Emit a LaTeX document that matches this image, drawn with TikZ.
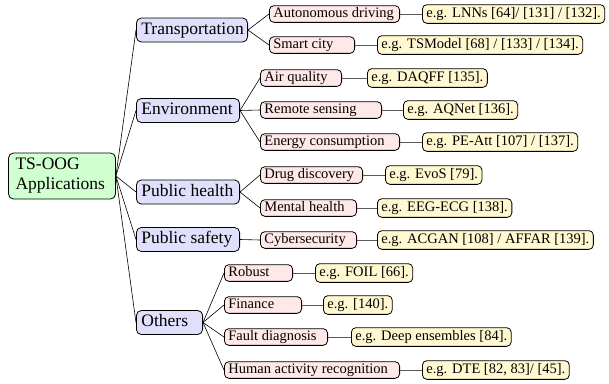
\documentclass[tikz,border=0pt]{standalone}
\usepackage{fontspec}
\setmainfont{Liberation Serif}
\definecolor{rootfill}{RGB}{208,255,208}
\definecolor{lonefill}{RGB}{224,224,252}
\definecolor{ltwofill}{RGB}{255,232,232}
\definecolor{lthreefill}{RGB}{255,248,208}
\newcommand\lftbox[2]{\makebox[#1pt][l]{#2}}
\tikzset{
  base/.style={draw=black, line width=0.8pt, anchor=west},
  rootnode/.style={base, anchor=center, fill=rootfill, rounded corners=5pt, inner xsep=7pt, inner ysep=3pt,
    minimum height=46pt, text width=93pt, align=left, font=\fontsize{17.5}{20}\selectfont},
  lone/.style={base, fill=lonefill, rounded corners=5pt, inner xsep=5pt, inner ysep=3.5pt,
    text height=12.5pt, text depth=4.5pt, font=\fontsize{17.5}{20}\selectfont},
  ltwo/.style={base, fill=ltwofill, rounded corners=4.5pt, inner xsep=4pt, inner ysep=1.6pt,
    text height=10pt, text depth=3.5pt, font=\fontsize{14.5}{16}\selectfont},
  lthree/.style={base, fill=lthreefill, rounded corners=4.5pt, inner xsep=4pt, inner ysep=2.6pt,
    text height=10pt, text depth=3.5pt, font=\fontsize{14.5}{16}\selectfont},
  edgeA/.style={draw=black, line width=0.6pt},
  edgeB/.style={draw=black!65, line width=0.8pt}
}
\begin{document}
\begin{tikzpicture}[x=1pt,y=-1pt]
\useasboundingbox (0,0) rectangle (609,383);
% root
\node[rootnode] (root) at (62,176) {TS-OOG\\Applications};
% level 1
\node[lone] (t)  at (136,30)    {\lftbox{101.2}{Transportation}};
\node[lone] (e)  at (136,110.5) {\lftbox{93.2}{Environment}};
\node[lone] (ph) at (136,192)   {\lftbox{93.2}{Public health}};
\node[lone] (ps) at (136,239.5) {\lftbox{93.2}{Public safety}};
\node[lone] (o)  at (136,322.5) {\lftbox{56.2}{Others}};
% level 2
\node[ltwo] (t1) at (269,14)  {\lftbox{122.2}{Autonomous driving}};
\node[ltwo] (t2) at (269,45)  {\lftbox{77.2}{Smart city}};
\node[ltwo] (e1) at (260,78)  {\lftbox{73.2}{Air quality}};
\node[ltwo] (e2) at (260,110) {\lftbox{113.2}{Remote sensing}};
\node[ltwo] (e3) at (260,142) {\lftbox{131.2}{Energy consumption}};
\node[ltwo] (h1) at (260,175) {\lftbox{94.2}{Drug discovery}};
\node[ltwo] (h2) at (260,208) {\lftbox{88.2}{Mental health}};
\node[ltwo] (s1) at (260,240) {\lftbox{88.2}{Cybersecurity}};
\node[ltwo] (o1) at (224,273) {\lftbox{60.2}{Robust}};
\node[ltwo] (o2) at (224,305) {\lftbox{69.2}{Finance}};
\node[ltwo] (o3) at (224,337) {\lftbox{95.2}{Fault diagnosis}};
\node[ltwo] (o4) at (224,370) {\lftbox{167.2}{Human activity recognition}};
% level 3
\node[lthree] (t1x) at (422,14)  {e.g. LNNs [64]/ [131] / [132].};
\node[lthree] (t2x) at (377,45)  {e.g. TSModel [68] / [133] / [134].};
\node[lthree] (e1x) at (367,78)  {e.g. DAQFF [135].};
\node[lthree] (e2x) at (403,110) {e.g. AQNet [136].};
\node[lthree] (e3x) at (422,142) {e.g. PE-Att [107] / [137].};
\node[lthree] (h1x) at (385,175) {e.g. EvoS [79].};
\node[lthree] (h2x) at (377,208) {e.g. EEG-ECG [138].};
\node[lthree] (s1x) at (377,240) {e.g. ACGAN [108] / AFFAR [139].};
\node[lthree] (o1x) at (315,273) {e.g. FOIL [66].};
\node[lthree] (o2x) at (323,305) {e.g. [140].};
\node[lthree] (o3x) at (351,337) {e.g. Deep ensembles [84].};
\node[lthree] (o4x) at (422,370) {e.g. DTE [82, 83]/ [45].};
% edges root -> level 1
\foreach \c in {t,e,ph,ps,o} \draw[edgeA] (root.east) -- (\c.west);
% level 1 -> level 2
\foreach \p/\c in {t/t1,t/t2,e/e1,e/e2,e/e3,ph/h1,ph/h2,ps/s1,o/o1,o/o2,o/o3,o/o4}
  \draw[edgeA] (\p.east) -- (\c.west);
% level 2 -> level 3
\foreach \c in {t1,t2,e1,e2,e3,h1,h2,s1,o1,o2,o3,o4}
  \draw[edgeB] (\c.east) -- (\c x.west);
\end{tikzpicture}
\end{document}
